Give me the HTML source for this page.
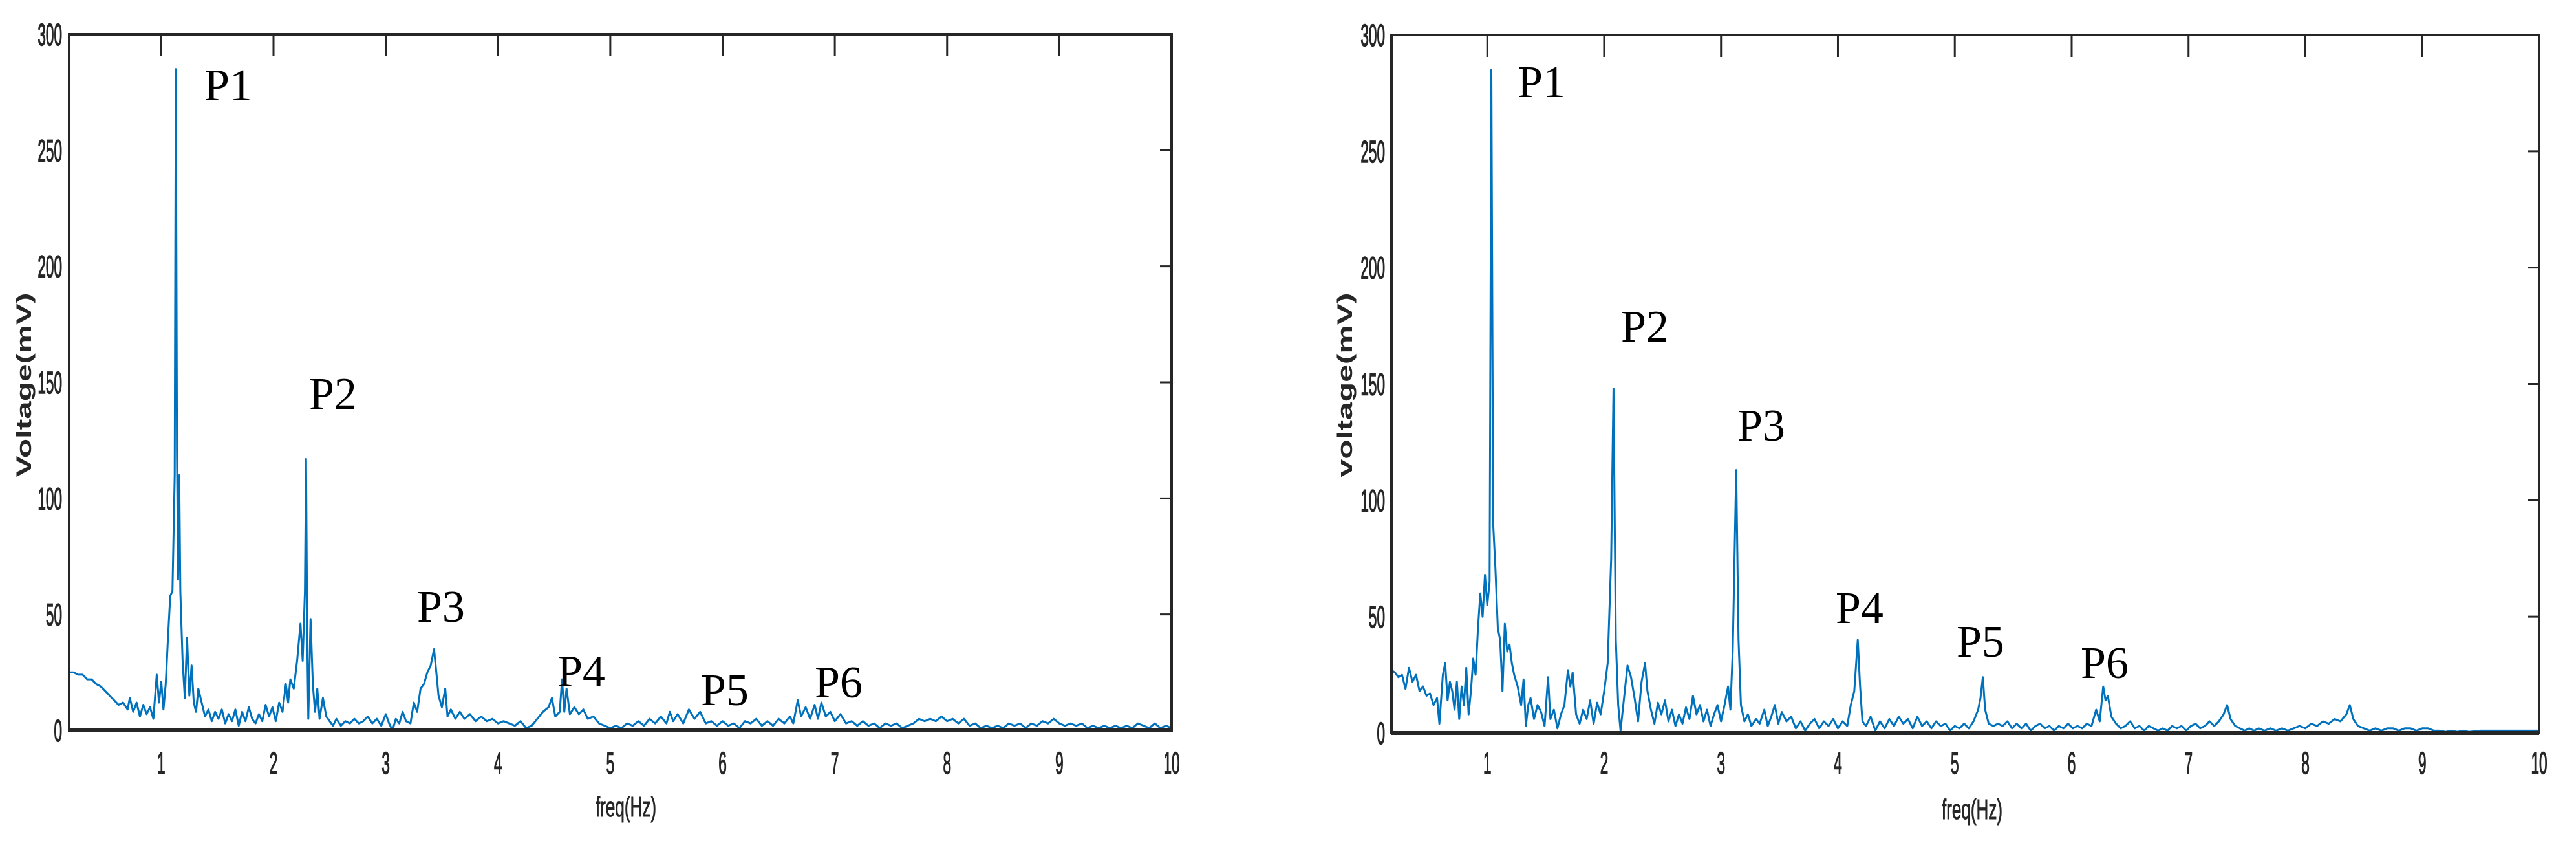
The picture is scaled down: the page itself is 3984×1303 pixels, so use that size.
<!DOCTYPE html>
<html><head><meta charset="utf-8"><style>
html,body{margin:0;padding:0;background:#fff;width:3984px;height:1303px;overflow:hidden}
svg{display:block}
</style></head><body>
<svg id="fig" width="3984" height="1303" viewBox="0 0 3984 1303" xmlns="http://www.w3.org/2000/svg"></svg>
<script>
const freqsA=[0.18,0.22,0.26,0.30,0.34,0.38,0.42,0.46,0.50,0.54,0.58,0.62,0.66,0.70,0.72,0.75,0.78,0.81,0.84,0.87,0.90,0.93,0.96,0.98,1.00,1.02,1.04,1.06,1.08,1.10,1.12,1.13,1.14,1.15,1.16,1.17,1.19,1.21,1.23,1.25,1.27,1.29,1.31,1.33,1.36,1.39,1.42,1.45,1.48,1.51,1.54,1.57,1.60,1.63,1.66,1.69,1.72,1.75,1.78,1.81,1.84,1.87,1.90,1.93,1.96,1.99,2.02,2.05,2.08,2.11,2.13,2.15,2.18,2.21,2.24,2.26,2.28,2.29,2.30,2.31,2.33,2.35,2.37,2.39,2.41,2.44,2.47,2.50,2.53,2.56,2.60,2.64,2.68,2.72,2.76,2.80,2.84,2.88,2.92,2.96,3.00,3.03,3.06,3.09,3.12,3.15,3.18,3.22,3.25,3.28,3.31,3.34,3.37,3.40,3.43,3.45,3.47,3.50,3.53,3.55,3.58,3.62,3.66,3.70,3.75,3.80,3.85,3.90,3.95,4.00,4.05,4.10,4.15,4.20,4.25,4.30,4.35,4.40,4.45,4.48,4.51,4.55,4.57,4.59,4.61,4.64,4.68,4.72,4.76,4.80,4.85,4.90,4.95,5.00,5.05,5.10,5.15,5.20,5.25,5.30,5.35,5.40,5.45,5.50,5.53,5.56,5.60,5.65,5.70,5.75,5.80,5.85,5.90,5.95,6.00,6.05,6.10,6.15,6.20,6.25,6.30,6.35,6.40,6.45,6.50,6.55,6.60,6.63,6.67,6.70,6.74,6.78,6.82,6.85,6.88,6.92,6.96,7.00,7.05,7.10,7.15,7.20,7.25,7.30,7.35,7.40,7.45,7.50,7.55,7.60,7.65,7.70,7.75,7.80,7.85,7.90,7.95,8.00,8.05,8.10,8.15,8.20,8.25,8.30,8.35,8.40,8.45,8.50,8.55,8.60,8.65,8.70,8.75,8.80,8.85,8.90,8.95,9.00,9.05,9.10,9.15,9.20,9.25,9.30,9.35,9.40,9.45,9.50,9.55,9.60,9.65,9.70,9.75,9.80,9.85,9.90,9.95,10.0];
const voltsA=[25,25,24,24,22,22,20,19,17,15,13,11,12,9,14,8,12,6,11,7,10,5,24,12,21,9,20,40,58,60,110,285,120,65,110,60,30,14,40,15,28,12,8,18,12,6,9,4,8,5,9,3,7,4,9,2,8,4,10,5,3,7,4,11,6,10,4,12,8,20,12,22,18,30,46,30,60,117,40,5,48,20,8,18,5,14,6,4,2,5,2,4,3,5,3,4,6,3,5,2,7,3,0,5,3,8,4,3,12,8,18,20,25,28,35,25,15,10,18,6,9,5,8,5,7,4,6,4,5,3,4,3,2,4,1,2,5,8,10,14,6,8,22,8,18,7,10,7,9,5,6,3,2,1,2,1,3,2,4,2,5,3,6,3,8,4,7,3,9,5,8,3,4,2,4,2,3,1,4,3,5,2,4,2,5,3,6,3,13,6,10,5,11,5,12,6,8,4,7,3,4,2,4,2,3,1,3,2,3,1,2,3,5,4,5,4,6,4,5,3,5,2,3,1,2,1,2,1,3,2,3,1,3,2,4,3,5,3,2,3,2,3,1,2,1,2,1,2,1,2,1,3,2,1,3,1,2,1];
const freqsB=[0.18,0.21,0.24,0.27,0.30,0.33,0.36,0.39,0.42,0.45,0.48,0.51,0.54,0.57,0.59,0.62,0.64,0.66,0.68,0.70,0.72,0.74,0.76,0.78,0.80,0.82,0.84,0.86,0.88,0.90,0.92,0.94,0.96,0.98,1.00,1.02,1.035,1.05,1.07,1.09,1.11,1.13,1.15,1.17,1.19,1.21,1.23,1.26,1.29,1.31,1.33,1.35,1.37,1.40,1.43,1.46,1.49,1.52,1.54,1.57,1.60,1.63,1.66,1.69,1.71,1.73,1.76,1.79,1.82,1.85,1.88,1.91,1.94,1.97,2.00,2.03,2.06,2.08,2.10,2.12,2.14,2.17,2.20,2.23,2.26,2.29,2.32,2.35,2.37,2.40,2.43,2.46,2.49,2.52,2.55,2.58,2.61,2.64,2.67,2.70,2.73,2.76,2.79,2.82,2.85,2.88,2.91,2.94,2.97,3.00,3.03,3.06,3.08,3.10,3.13,3.15,3.17,3.20,3.23,3.26,3.30,3.33,3.37,3.40,3.43,3.46,3.49,3.52,3.56,3.60,3.64,3.68,3.72,3.76,3.80,3.84,3.88,3.92,3.96,4.00,4.04,4.08,4.11,4.14,4.17,4.19,4.21,4.24,4.28,4.32,4.36,4.40,4.44,4.48,4.52,4.56,4.60,4.64,4.68,4.72,4.76,4.80,4.84,4.88,4.92,4.96,5.00,5.04,5.08,5.12,5.16,5.20,5.22,5.24,5.26,5.29,5.33,5.37,5.41,5.45,5.49,5.53,5.57,5.61,5.65,5.69,5.73,5.77,5.81,5.85,5.89,5.93,5.97,6.01,6.05,6.09,6.13,6.17,6.21,6.24,6.27,6.29,6.31,6.34,6.38,6.42,6.46,6.50,6.54,6.58,6.62,6.66,6.70,6.74,6.78,6.82,6.86,6.90,6.94,6.98,7.02,7.06,7.10,7.14,7.18,7.22,7.26,7.30,7.33,7.36,7.40,7.44,7.48,7.52,7.56,7.60,7.65,7.70,7.75,7.80,7.85,7.90,7.95,8.00,8.05,8.10,8.15,8.20,8.25,8.30,8.35,8.38,8.41,8.45,8.50,8.55,8.60,8.65,8.70,8.75,8.80,8.85,8.90,8.95,9.00,9.05,9.10,9.15,9.20,9.25,9.30,9.35,9.40,9.50,10.0];
const voltsB=[27,26,24,25,19,28,22,25,18,20,16,17,12,15,4,25,30,14,22,18,10,22,6,20,12,28,8,18,32,25,45,60,50,68,55,65,285,90,70,45,40,18,47,35,38,30,25,20,12,23,3,12,15,6,12,9,3,24,6,10,2,8,12,27,20,26,8,4,10,6,14,4,13,8,18,30,75,148,40,12,1,15,29,24,15,5,22,30,18,10,4,13,8,14,5,10,3,8,4,11,6,16,8,12,5,10,3,8,12,5,12,20,10,35,113,40,12,5,8,3,6,4,10,3,7,12,4,9,5,7,2,5,1,4,6,2,5,3,6,2,5,3,12,18,40,20,5,3,7,1,5,2,6,3,7,4,6,2,7,3,5,2,5,3,4,1,3,2,4,2,5,10,15,24,10,4,3,4,3,5,2,4,2,4,1,3,4,2,3,1,3,2,4,2,3,2,4,3,10,5,20,14,16,7,4,2,3,5,2,3,1,3,2,1,2,1,3,2,3,1,3,4,2,3,5,3,5,8,12,6,3,2,1,2,1,2,1,2,1,2,1,2,3,2,4,3,5,4,6,5,8,12,6,3,2,1,2,1,2,2,1,2,2,1,2,2,1,1,0.5,1,0.5,1,0.5,1,1];
const yTicks=[0,50,100,150,200,250,300];
const xTicks=[1,2,3,4,5,6,7,8,9,10];
const peakNames=["P1","P2","P3","P4","P5","P6"];

const NS="http://www.w3.org/2000/svg";
const svg=document.getElementById('fig');
function mk(tag,attrs,parent){const e=document.createElementNS(NS,tag);for(const k in attrs)e.setAttribute(k,attrs[k]);(parent||svg).appendChild(e);return e;}

const panels=[
 {id:'left',L:107,R:1812,T:53,B:1129,fx:freqsA,vy:voltsA,ylab:'Voltage(mV)',ylx:37,xlx:968,xly:1262,ytx:96,
  peaks:[[316,155],[478,632],[645,961],[862,1061],[1084,1090],[1260,1078]]},
 {id:'right',L:2152,R:3927,T:54,B:1133,fx:freqsB,vy:voltsB,ylab:'voltage(mV)',ylx:2080,xlx:3050,xly:1266,ytx:2142,
  peaks:[[2347,150],[2507,528],[2687,681],[2839,963],[3026,1015],[3218,1048]]}
];
const XMIN=0.18,XMAX=10,YMIN=0,YMAX=300;
panels.forEach(p=>{
  const g=mk('g',{});
  
  
  const xs=v=>p.L+(v-XMIN)/(XMAX-XMIN)*(p.R-p.L);
  const ys=v=>p.B-(v-YMIN)/(YMAX-YMIN)*(p.B-p.T);
  let d='';
  p.fx.forEach((f,i)=>{d+=(i?'L':'M')+xs(f).toFixed(1)+' '+ys(p.vy[i]).toFixed(1);});
  const line=mk('path',{d:d,fill:'none',stroke:'#0072BD','stroke-width':3,'stroke-linejoin':'round'},g);
  
  
  const box=mk('rect',{x:p.L,y:p.T,width:p.R-p.L,height:p.B-p.T,fill:'none',stroke:'#262626','stroke-width':4},g);
  
  
  mk('line',{x1:p.L,x2:p.R,y1:p.B,y2:p.B,stroke:'#262626','stroke-width':6},g);
  xTicks.forEach(t=>{
    const x=xs(t);
    if(t<10) mk('line',{x1:x,x2:x,y1:p.T,y2:p.T+34,stroke:'#262626','stroke-width':3},g);
    const tx=mk('text',{transform:`translate(${x},1196) scale(0.47,1)`,'text-anchor':'middle','font-family':'Liberation Sans, sans-serif','font-size':48,fill:'#262626',stroke:'#262626','stroke-width':1.5},g);
    tx.textContent=t;
    
    
  });
  yTicks.forEach(t=>{
    const y=ys(t);
    mk('line',{x1:p.R-18,x2:p.R,y1:y,y2:y,stroke:'#262626','stroke-width':3},g);
    const ty=mk('text',{transform:`translate(${p.ytx},${y+17}) scale(0.47,1)`,'text-anchor':'end','font-family':'Liberation Sans, sans-serif','font-size':48,fill:'#262626',stroke:'#262626','stroke-width':1.5},g);
    ty.textContent=t;
    
    
  });
  const yl=mk('text',{transform:`translate(${p.ylx+11},595) rotate(-90)`,'text-anchor':'middle','font-family':'Liberation Sans, sans-serif','font-size':32,'font-weight':'bold',fill:'#262626',textLength:285,lengthAdjust:'spacingAndGlyphs'},g);
  yl.textContent=p.ylab;
  
  
  const xl=mk('text',{x:p.xlx,y:p.xly,'text-anchor':'middle','font-family':'Liberation Sans, sans-serif','font-size':44,fill:'#262626',stroke:'#262626','stroke-width':1,textLength:94,lengthAdjust:'spacingAndGlyphs'},g);
  xl.textContent='freq(Hz)';
  
  
  p.peaks.forEach((pk,i)=>{
    const t=mk('text',{x:pk[0],y:pk[1],'font-family':'Liberation Serif, serif','font-size':70,fill:'#000'},g);
    t.textContent=peakNames[i];
    
    
  });
});
</script>
</body></html>
